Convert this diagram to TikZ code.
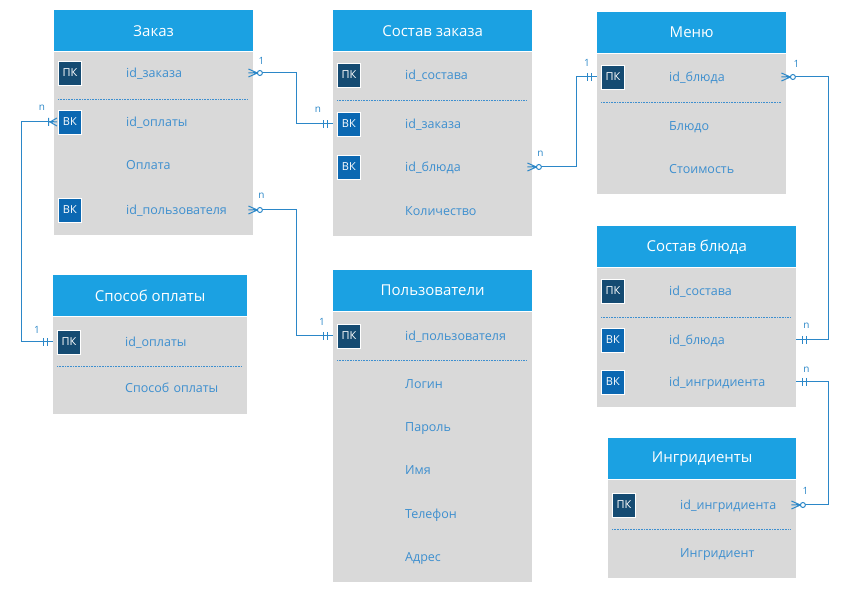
\documentclass[tikz,border=0pt]{standalone}
\usepackage{fontspec}
\setmainfont{Open Sans}
\usetikzlibrary{positioning}

\definecolor{hdrblue}{HTML}{1BA1E2}
\definecolor{bodygray}{HTML}{D9D9D9}
\definecolor{txtblue}{HTML}{3D8FCF}
\definecolor{pkdark}{HTML}{154B72}
\definecolor{fkblue}{HTML}{0B68B2}
\definecolor{linkblue}{HTML}{2B87C8}

\tikzset{
  hdr/.style={fill=hdrblue, text=white, font=\fontsize{15}{17}\selectfont, minimum height=41pt, inner sep=0pt, anchor=north west},
  tbody/.style={fill=bodygray, inner sep=0pt},
  row/.style={text=txtblue, font=\fontsize{12.5}{14}\selectfont, inner sep=0pt, text width=#1pt, text height=11pt, text depth=1.5pt, align=left, anchor=west, execute at begin node={\hspace*{72pt}}},
  keybox/.style={draw=white, line width=0.8pt, text=white, font=\fontsize{11}{12}\selectfont, minimum width=23pt, minimum height=24pt, inner sep=2pt},
  pk/.style={keybox, fill=pkdark},
  fk/.style={keybox, fill=fkblue},
  sep/.style={draw=txtblue, line width=0.5pt, dash pattern=on 1pt off 0.6pt},
  link/.style={draw=linkblue, line width=1pt},
  card/.style={text=linkblue, font=\fontsize{10}{11}\selectfont, inner sep=0pt},
  zeromany/.pic={\draw[link] (-5,4) -- (4,0) -- (-5,-4) (-5,0) -- (4,0);
                 \draw[link, fill=white] (6.5,0) circle (2.5);},
  onemany/.pic={\draw[link] (-3,4) -- (4,0) -- (-3,-4) (-3,0) -- (4,0) (5.5,-4) -- (5.5,4);},
  onlyone/.pic={\draw[link] (6,-4) -- (6,4) (10,-4) -- (10,4);}
}

\begin{document}
\begin{tikzpicture}[x=1pt,y=-1pt]
\useasboundingbox (0,0) rectangle (847,609);

% Заказ
\node[hdr, minimum width=199pt] (zakaz) at (54,10) {Заказ};
\node[tbody, minimum width=199pt, minimum height=183pt, below=0pt of zakaz] (zakazB) {};
\foreach [count=\i] \y/\txt in {73/id\_заказа,122/id\_оплаты,165/Оплата,210/id\_пользователя}
  \node[row=199] (zakaz\i) at (54,\y) {\txt};
\node[pk, right=4pt of zakaz1.west] (zakazK1) {ПК};
\node[fk, right=4pt of zakaz2.west] (zakazK2) {ВК};
\node[fk, right=4pt of zakaz4.west] (zakazK4) {ВК};
\draw[sep] (58,99) -- (248,99);

% Состав заказа
\node[hdr, minimum width=199pt] (sostavz) at (333,10) {Состав заказа};
\node[tbody, minimum width=199pt, minimum height=184pt, below=0pt of sostavz] (sostavzB) {};
\foreach [count=\i] \y/\txt in {75/id\_состава,124/id\_заказа,167/id\_блюда,211/Количество}
  \node[row=199] (sostavz\i) at (333,\y) {\txt};
\node[pk, right=4pt of sostavz1.west] (sostavzK1) {ПК};
\node[fk, right=4pt of sostavz2.west] (sostavzK2) {ВК};
\node[fk, right=4pt of sostavz3.west] (sostavzK3) {ВК};
\draw[sep] (337,100) -- (527,100);

% Меню
\node[hdr, minimum width=189pt] (menu) at (597,12) {Меню};
\node[tbody, minimum width=189pt, minimum height=140pt, below=0pt of menu] (menuB) {};
\foreach [count=\i] \y/\txt in {77/id\_блюда,126/Блюдо,169/Стоимость}
  \node[row=189] (menu\i) at (597,\y) {\txt};
\node[pk, right=4pt of menu1.west] (menuK1) {ПК};
\draw[sep] (601,102) -- (781,102);

% Способ оплаты
\node[hdr, minimum width=194pt] (sposob) at (53,275) {Способ оплаты};
\node[tbody, minimum width=194pt, minimum height=97pt, below=0pt of sposob] (sposobB) {};
\foreach [count=\i] \y/\txt in {342/id\_оплаты,388/Способ оплаты}
  \node[row=194] (sposob\i) at (53,\y) {\txt};
\node[pk, right=4pt of sposob1.west] (sposobK1) {ПК};
\draw[sep] (57,366) -- (242,366);

% Пользователи
\node[hdr, minimum width=199pt] (polz) at (333,270) {Пользователи};
\node[tbody, minimum width=199pt, minimum height=270pt, below=0pt of polz] (polzB) {};
\foreach [count=\i] \y/\txt in {336/id\_пользователя,384/Логин,427/Пароль,470/Имя,514/Телефон,557/Адрес}
  \node[row=199] (polz\i) at (333,\y) {\txt};
\node[pk, right=4pt of polz1.west] (polzK1) {ПК};
\draw[sep] (337,360) -- (527,360);

% Состав блюда
\node[hdr, minimum width=199pt] (sostavb) at (597,226) {Состав блюда};
\node[tbody, minimum width=199pt, minimum height=139pt, below=0pt of sostavb] (sostavbB) {};
\foreach [count=\i] \y/\txt in {291/id\_состава,340/id\_блюда,382/id\_ингридиента}
  \node[row=199] (sostavb\i) at (597,\y) {\txt};
\node[pk, right=4pt of sostavb1.west] (sostavbK1) {ПК};
\node[fk, right=4pt of sostavb2.west] (sostavbK2) {ВК};
\node[fk, right=4pt of sostavb3.west] (sostavbK3) {ВК};
\draw[sep] (601,317) -- (791,317);

% Ингридиенты
\node[hdr, minimum width=188pt] (ingr) at (608,438) {Ингридиенты};
\node[tbody, minimum width=188pt, minimum height=98pt, below=0pt of ingr] (ingrB) {};
\foreach [count=\i] \y/\txt in {505/id\_ингридиента,553/Ингридиент}
  \node[row=188] (ingr\i) at (608,\y) {\txt};
\node[pk, right=4pt of ingr1.west] (ingrK1) {ПК};
\draw[sep] (612,529) -- (791,529);

% связи
\draw[link] (zakaz1.east) node[card, xshift=8pt, yshift=12pt] {1} -- ++(43,0) |- (sostavz2.west) node[card, xshift=-15pt, yshift=14pt] {n};
\draw[link] (zakaz2.west) node[card, xshift=-12pt, yshift=14pt] {n} -- ++(-33,0) |- (sposob1.west) node[card, xshift=-16pt, yshift=12pt] {1};
\draw[link] (zakaz4.east) node[card, xshift=8pt, yshift=14pt] {n} -- ++(43,0) |- (polz1.west) node[card, xshift=-11pt, yshift=14pt] {1};
\draw[link] (sostavz3.east) node[card, xshift=8pt, yshift=13pt] {n} -- ++(44,0) |- (menu1.west) node[card, xshift=-10pt, yshift=14pt] {1};
\draw[link] (menu1.east) node[card, xshift=10pt, yshift=13pt] {1} -- ++(42,0) |- (sostavb2.east) node[card, xshift=10pt, yshift=14pt] {n};
\draw[link] (sostavb3.east) node[card, xshift=10pt, yshift=12pt] {n} -- ++(32,0) |- (ingr1.east) node[card, xshift=9pt, yshift=14pt] {1};

% концы связей
\pic at (zakaz1.east) {zeromany};
\pic[rotate=180] at (sostavz2.west) {onlyone};
\pic[rotate=180] at (zakaz2.west) {onemany};
\pic[rotate=180] at (sposob1.west) {onlyone};
\pic at (zakaz4.east) {zeromany};
\pic[rotate=180] at (polz1.west) {onlyone};
\pic at (sostavz3.east) {zeromany};
\pic[rotate=180] at (menu1.west) {onlyone};
\pic at (menu1.east) {zeromany};
\pic at (sostavb2.east) {onlyone};
\pic at (sostavb3.east) {onlyone};
\pic at (ingr1.east) {zeromany};
\end{tikzpicture}
\end{document}
